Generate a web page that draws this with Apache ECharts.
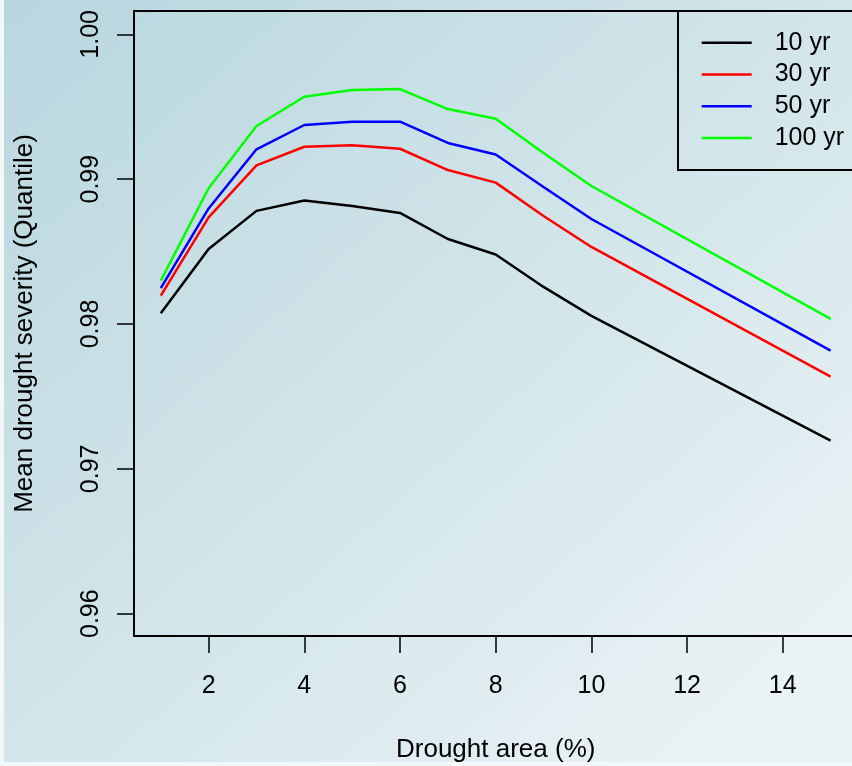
<!DOCTYPE html>
<html>
<head>
<meta charset="utf-8">
<script src="https://cdn.jsdelivr.net/npm/echarts@6/dist/echarts.min.js"></script>
<style>
html,body{margin:0;padding:0;}
#chart{width:852px;height:766px;}
</style>
</head>
<body>
<div id="chart"></div>
<script>
// Drought area (%)
const areas = [1, 2, 3, 4, 5, 6, 7, 8, 9, 10, 15];
const seriesNames = ['10 yr', '30 yr', '50 yr', '100 yr'];
const yr10  = [0.98075, 0.98518, 0.98781, 0.98853, 0.98815, 0.98767, 0.98587, 0.98480, 0.98256, 0.98056, 0.97195];
const yr30  = [0.98196, 0.98736, 0.99095, 0.99224, 0.99234, 0.99210, 0.99063, 0.98976, 0.98746, 0.98532, 0.97637];
const yr50  = [0.98247, 0.98798, 0.99206, 0.99374, 0.99397, 0.99397, 0.99250, 0.99170, 0.98946, 0.98725, 0.97816];
const yr100 = [0.98300, 0.98937, 0.99367, 0.99569, 0.99616, 0.99622, 0.99484, 0.99417, 0.99181, 0.98953, 0.98035];
const xTicks = [2, 4, 6, 8, 10, 12, 14];
const yTicks = [0.96, 0.97, 0.98, 0.99, 1.00];
const colors = ['#000000', '#ff0000', '#0000ff', '#00ff00'];

const allSeries = [yr10, yr30, yr50, yr100];
const font = '"Liberation Sans", Arial, Helvetica, sans-serif';

const chart = echarts.init(document.getElementById('chart'), null, {renderer: 'canvas'});
chart.setOption({
  animation: false,
  backgroundColor: {
    type: 'linear', x: 0, y: 0, x2: 0.8, y2: 1,
    colorStops: [
      {offset: 0, color: '#b9d6de'},
      {offset: 0.5, color: '#cfe4e9'},
      {offset: 1, color: '#e9f2f4'}
    ]
  },
  graphic: [
    {type: 'rect', left: 0, top: 0, shape: {width: 4, height: 766}, style: {fill: '#f2f7f8'}, silent: true},
    {type: 'rect', left: 0, top: 762, shape: {width: 852, height: 4}, style: {fill: '#f2f7f8'}, silent: true}
  ],
  grid: {
    left: 134, top: 11, width: 723.4, height: 625,
    show: true, borderColor: '#000', borderWidth: 2, backgroundColor: 'transparent',
    containLabel: false,
    outerBoundsMode: 'none'
  },
  legend: {
    orient: 'vertical',
    left: 678, top: 11,
    data: seriesNames,
    icon: 'rect',
    itemWidth: 50, itemHeight: 2.5, itemGap: 6.8,
    padding: [19.2, 30, 19.5, 23.7],
    borderColor: '#000', borderWidth: 2,
    backgroundColor: 'transparent',
    textStyle: {fontFamily: font, fontSize: 25, color: '#000', lineHeight: 25, padding: [0, 0, 0, 18]}
  },
  xAxis: {
    type: 'value', min: 0.44, max: 15.56,
    name: 'Drought area (%)', nameLocation: 'middle', nameGap: 101,
    nameTextStyle: {fontFamily: font, fontSize: 26, color: '#000'},
    axisLine: {show: true, lineStyle: {color: '#000', width: 2}},
    axisTick: {show: true, customValues: xTicks, length: 17, lineStyle: {color: '#000', width: 1.5}},
    axisLabel: {customValues: xTicks, margin: 38, fontFamily: font, fontSize: 25, color: '#000'},
    splitLine: {show: false}
  },
  yAxis: {
    type: 'value', min: 0.95846, max: 1.00161,
    name: 'Mean drought severity (Quantile)', nameLocation: 'middle', nameGap: 96, nameRotate: 90,
    nameTextStyle: {fontFamily: font, fontSize: 26, color: '#000'},
    axisLine: {show: true, lineStyle: {color: '#000', width: 2}},
    axisTick: {show: true, customValues: yTicks, length: 17, lineStyle: {color: '#000', width: 1.5}},
    axisLabel: {customValues: yTicks, rotate: 90, margin: 30, fontFamily: font, fontSize: 25, color: '#000',
      formatter: v => Number(v).toFixed(2)},
    splitLine: {show: false}
  },
  series: allSeries.map((vals, i) => ({
    name: seriesNames[i],
    type: 'line',
    data: areas.map((a, j) => [a, vals[j]]),
    symbol: 'none',
    showSymbol: false,
    lineStyle: {color: colors[i], width: 2.5},
    itemStyle: {color: colors[i]},
    z: 2 + i
  }))
});
</script>
</body>
</html>
